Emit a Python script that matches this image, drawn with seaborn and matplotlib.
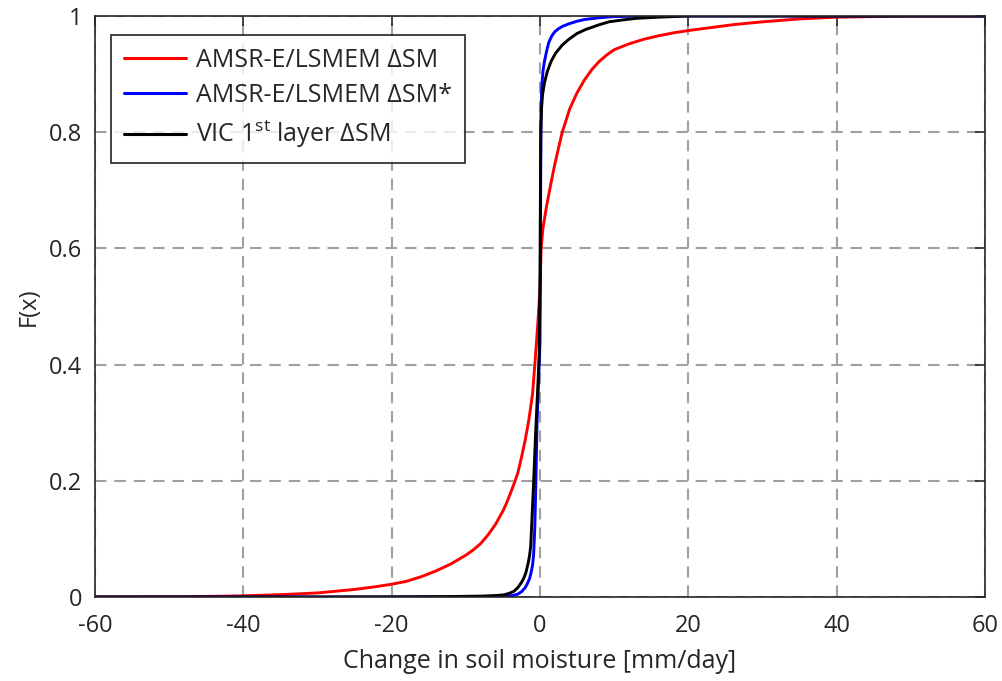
import numpy as np
import pandas as pd
import matplotlib
matplotlib.use("Agg")
import matplotlib.pyplot as plt
import seaborn as sns

x_amsr = [-60, -50, -45, -40, -35, -30, -25, -22, -20, -18, -16, -14, -12,
          -10, -9, -8, -7, -6, -5, -4.5, -4, -3.5, -3, -2.5, -2, -1.5, -1,
          -0.7, -0.35, 0, 0.15, 0.4, 0.9, 1.6, 2, 2.5, 3, 3.5, 4, 5, 6, 7, 8,
          9, 10, 12, 14, 16, 18, 20, 23, 26, 30, 35, 40, 45, 50, 60]
f_amsr = [0, 0.0005, 0.001, 0.002, 0.004, 0.007, 0.013, 0.018, 0.022, 0.027,
          0.035, 0.045, 0.057, 0.072, 0.081, 0.092, 0.107, 0.125, 0.148, 0.162,
          0.178, 0.195, 0.213, 0.24, 0.27, 0.305, 0.35, 0.40, 0.46, 0.53, 0.6,
          0.635, 0.674, 0.72, 0.745, 0.773, 0.80, 0.82, 0.84, 0.868, 0.89,
          0.908, 0.922, 0.933, 0.942, 0.952, 0.96, 0.966, 0.971, 0.975, 0.98,
          0.985, 0.99, 0.995, 0.998, 0.999, 1.0, 1.0]

x_amsr_star = [-60, -10, -6, -5, -4.5, -4, -3.5, -3, -2.5, -2, -1.7, -1.4,
               -1.2, -1.0, -0.85, -0.7, -0.55, -0.4, -0.2, 0, 0.05, 0.1, 0.15,
               0.25, 0.4, 0.6, 0.9, 1.2, 1.6, 2, 2.5, 3, 4, 5, 6, 8, 10, 15, 60]
f_amsr_star = [0, 0, 0.0003, 0.0008, 0.0013, 0.002, 0.003, 0.005, 0.009, 0.016,
               0.023, 0.032, 0.042, 0.055, 0.075, 0.12, 0.2, 0.3, 0.37, 0.44,
               0.55, 0.75, 0.84, 0.88, 0.905, 0.922, 0.94, 0.955, 0.966, 0.973,
               0.978, 0.982, 0.987, 0.991, 0.994, 0.997, 0.999, 1.0, 1.0]

x_vic = [-60, -30, -20, -12, -8, -6, -5, -4.5, -4, -3.5, -3, -2.5, -2.2, -1.9,
         -1.6, -1.4, -1.25, -1.1, -0.85, -0.6, -0.3, -0.1, 0, 0.1, 0.2, 0.35,
         0.6, 1.0, 1.5, 2.1, 3, 3.9, 5, 6.2, 8, 9.3, 11, 13, 16, 20, 60]
f_vic = [0, 0, 0.0003, 0.0008, 0.0015, 0.0025, 0.0035, 0.005, 0.007, 0.01,
         0.016, 0.025, 0.032, 0.042, 0.058, 0.072, 0.088, 0.13, 0.2, 0.28,
         0.36, 0.42, 0.55, 0.8, 0.84, 0.865, 0.885, 0.905, 0.922, 0.936, 0.95,
         0.96, 0.97, 0.977, 0.985, 0.99, 0.993, 0.996, 0.998, 1.0, 1.0]

labels = ["AMSR-E/LSMEM ΔSM", "AMSR-E/LSMEM ΔSM*",
          "VIC 1$^{\\mathrm{st}}$ layer ΔSM"]
colors = ["#ff0000", "#0000ff", "#000000"]
xticks = [-60, -40, -20, 0, 20, 40, 60]
yticks = [0, 0.2, 0.4, 0.6, 0.8, 1]
ytick_labels = ["0", "0.2", "0.4", "0.6", "0.8", "1"]

df = pd.concat([
    pd.DataFrame({"x": x_amsr, "F": f_amsr, "series": labels[0]}),
    pd.DataFrame({"x": x_amsr_star, "F": f_amsr_star, "series": labels[1]}),
    pd.DataFrame({"x": x_vic, "F": f_vic, "series": labels[2]}),
])

sns.set_style("white")
plt.rcParams["font.family"] = ["Open Sans", "DejaVu Sans"]
plt.rcParams["mathtext.fontset"] = "custom"
plt.rcParams["mathtext.rm"] = "Open Sans"
plt.rcParams["axes.unicode_minus"] = False

fig = plt.figure(figsize=(10.03, 6.81), dpi=100)
ax = fig.add_axes([95 / 1003, 1 - 597 / 681, 890 / 1003, 581 / 681])

sns.lineplot(data=df, x="x", y="F", hue="series", hue_order=labels,
             palette=colors, estimator=None, sort=True, linewidth=2.1, ax=ax)

ax.set_xlim(-60, 60)
ax.set_ylim(0, 1)
ax.set_xticks(xticks)
ax.set_yticks(yticks)
ax.set_yticklabels(ytick_labels)
ax.grid(True, color="#a0a0a0", linestyle=(0, (5.5, 3.8)), linewidth=1.5)
ax.set_axisbelow(True)
ax.tick_params(direction="in", length=7, width=1.2, top=True, right=True,
               labelsize=17, colors="#262626")
ax.tick_params(axis="x", pad=12)
ax.tick_params(axis="y", pad=9)
for s in ax.spines.values():
    s.set_color("#262626")
    s.set_linewidth(1.2)

ax.set_xlabel("Change in soil moisture [mm/day]", fontsize=18,
              color="#262626", labelpad=8)
ax.set_ylabel("F(x)", fontsize=17, color="#262626", labelpad=6)

handles, _ = ax.get_legend_handles_labels()
leg = ax.legend(handles, labels, loc="upper left", fontsize=18,
                bbox_to_anchor=(0.018, 0.967), borderaxespad=0,
                frameon=True, fancybox=False, edgecolor="black",
                handlelength=2.5, handletextpad=0.4, borderpad=0.5,
                labelspacing=0.42)
leg.get_frame().set_linewidth(1.3)
for line in leg.get_lines():
    line.set_linewidth(2.2)

fig.savefig("out.png", dpi=100)
